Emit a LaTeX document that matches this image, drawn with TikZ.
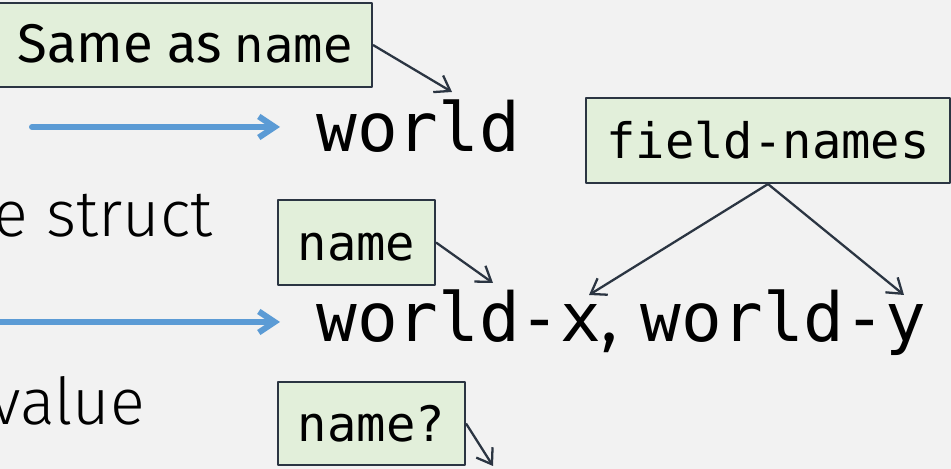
\documentclass[tikz,border=0pt]{standalone}
\usepackage{fontspec}
\setmainfont{Fira Sans}
\setmonofont{DejaVu Sans Mono}
\newfontfamily\lightfont{Fira Sans}[UprightFont={* Light}]
\usetikzlibrary{arrows.meta}
\definecolor{slidebg}{HTML}{F2F2F2}
\definecolor{notefill}{HTML}{E2EFDA}
\definecolor{noteline}{HTML}{2B3542}
\definecolor{flowblue}{HTML}{5B9BD5}
\newcommand{\bigcode}{\fontsize{38.5}{46}\selectfont}
\newcommand{\notesize}{\fontsize{27.8}{33}\selectfont}
\newcommand{\slidesize}{\fontsize{36.8}{44}\selectfont}

\begin{document}
\begin{tikzpicture}[x=0.02cm, y=-0.02cm, line join=round,
		note/.style={draw=noteline, line width=1.2pt, fill=notefill, inner sep=0pt, text height=0.72cm, text depth=0pt, font=\notesize},
		pointer/.style={-{Straight Barb[length=8pt, width=11pt]}, draw=noteline, line width=1.3pt},
		flow/.style={-{Straight Barb[length=9pt, width=12pt]}, draw=flowblue, line width=3.4pt, line cap=round},
		code/.style={anchor=base west, inner sep=0pt, font=\bigcode},
		slide/.style={anchor=base east, inner sep=0pt, font=\slidesize\lightfont}]
				% 背景
				\useasboundingbox (0,0) rectangle (951,469);
				\fill[slidebg] (0,0) rectangle (951,469);
				
				% 幻灯片正文 (左侧被裁掉)
				\node[slide] (struct) at (213,237) {e struct};
				\node[slide] (value) at (145,425) {value};
				
				% 代码
				\node[code] (world) at (316,152) {\texttt{world}};
				\node[code] (worldxy) at (316,342) {\texttt{world-x},\hspace{0.08em} \texttt{world-y}};
				
				% 蓝色箭头
				\coordinate (flowA) at (32,127);
				\coordinate (flowAend) at (280,127);
				\coordinate (flowB) at (-10,322);
				\coordinate (flowBend) at (280,322);
				\draw[flow] (flowA) -- (flowAend);
				\draw[flow] (flowB) -- (flowBend);
				
				% 注释框
				\node[note, minimum width=7.48cm, minimum height=1.68cm] (same) at (185,45) {{\fontsize{31}{37}\selectfont Same as} \texttt{name}};
				\node[note, minimum width=7.28cm, minimum height=1.7cm] (fields) at (768,140.5) {\texttt{field-names}};
				\node[note, minimum width=3.14cm, minimum height=1.7cm] (nm) at (356.5,242.5) {\texttt{name}};
				\node[note, minimum width=3.74cm, minimum height=1.66cm] (nmq) at (371.5,423.5) {\texttt{name?}};
				
				% 注释箭头
				\coordinate (tipA) at (452,92);
				\coordinate (tipB) at (493,283);
				\coordinate (tipC) at (493,466);
				\coordinate (tipX) at (589,295);
				\coordinate (tipY) at (904,295);
				\draw[pointer] (same.east) -- (tipA);
				\draw[pointer] (nm.east) -- (tipB);
				\draw[pointer] (nmq.east) -- (tipC);
				\draw[pointer] (fields.south) -- (tipX);
				\draw[pointer] (fields.south) -- (tipY);
			\end{tikzpicture}
\end{document}
